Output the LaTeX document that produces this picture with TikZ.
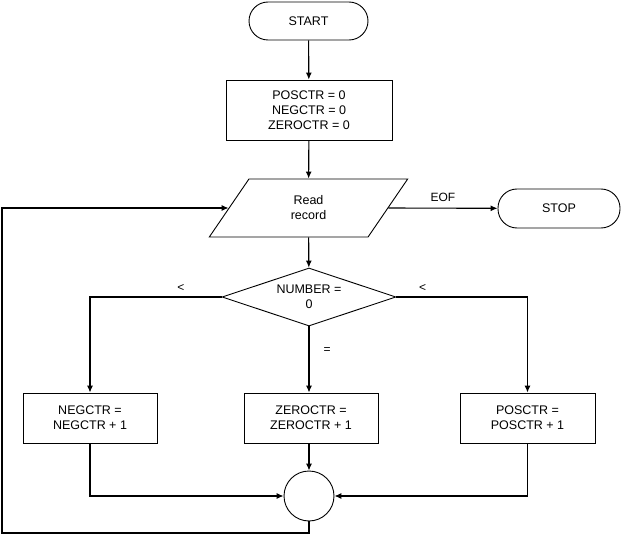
\documentclass[tikz,border=0pt]{standalone}
\usepackage{fontspec}
\setmainfont{Liberation Sans}
\usetikzlibrary{shapes.geometric,arrows.meta}
\begin{document}
\begin{tikzpicture}[x=1pt,y=-1pt,
  every node/.style={font=\fontsize{12.5}{15}\selectfont, align=center, inner sep=0pt},
  term/.style={draw, line width=0.9pt, rounded corners=19pt, minimum width=119pt, minimum height=38pt},
  proc/.style={draw, line width=0.9pt, minimum width=134pt, minimum height=50pt},
  io/.style={draw, line width=0.9pt, trapezium, trapezium left angle=64, trapezium right angle=116, trapezium stretches=true, minimum width=199pt, minimum height=58pt},
  dec/.style={draw, line width=0.9pt, diamond, aspect=3, minimum width=174pt, minimum height=58pt},
  conn/.style={draw, line width=0.9pt, circle, minimum size=50pt},
  flow/.style={line width=1.1pt, -{Latex[length=7pt,width=6pt]}},
  lbl/.style={font=\fontsize{12}{14}\selectfont}]
\useasboundingbox (0,0) rectangle (622,535);
\node[term] (start) at (308.5,21) {START};
\node[proc, minimum width=166pt, minimum height=60pt] (init) at (309,110) {POSCTR = 0\\NEGCTR = 0\\ZEROCTR = 0};
\node[io] (read) at (308.5,208) {Read\\record};
\node[term, minimum width=122pt, minimum height=39pt] (stop) at (559,208.5) {STOP};
\node[dec] (num) at (309,297) {NUMBER =\\0};
\node[proc] (neg) at (90,418) {NEGCTR =\\NEGCTR + 1};
\node[proc] (zero) at (311,418) {ZEROCTR =\\ZEROCTR + 1};
\node[proc, minimum width=135pt] (pos) at (527.5,418) {POSCTR =\\POSCTR + 1};
\node[conn] (join) at (309,496) {};
\coordinate (lb) at (2,533);
\draw[flow] (start) -- (init);
\draw[flow] (init) -- (read);
\draw[flow] (read.right side) -- node[lbl, above=6pt, pos=0.5] {EOF} (stop);
\draw[flow] (read) -- (num);
\draw[flow] (num.west) -| node[lbl, pos=0.155, above=5pt] {<} (neg.north);
\draw[flow] (num.east) -| node[lbl, pos=0.1, above=5pt] {<} (pos.north);
\draw[flow] (num.south) -- node[lbl, pos=0.36, right=14pt] {=} (num.south |- zero.north);
\draw[flow] (neg.south) |- (join.west);
\draw[flow] (pos.south) |- (join.east);
\draw[flow] (zero.south -| join.north) -- (join.north);
\draw[flow] (join.south) |- (lb) |- (read.left side);
\end{tikzpicture}
\end{document}
